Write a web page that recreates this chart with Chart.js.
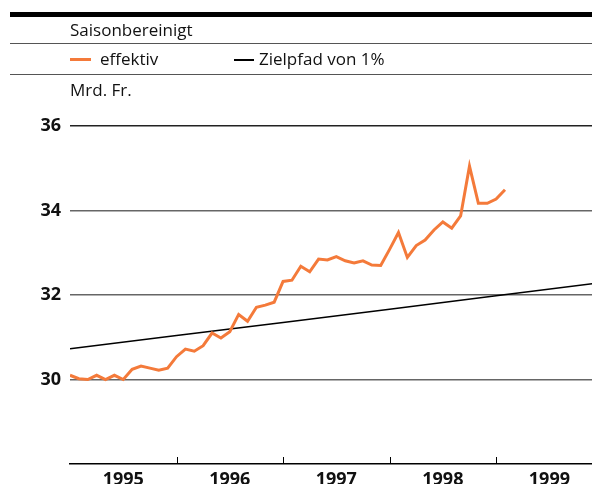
<!DOCTYPE html>
<html>
<head>
<meta charset="utf-8">
<script src="https://cdn.jsdelivr.net/npm/chart.js@4.4.1/dist/chart.umd.min.js"></script>
<style>
  body { margin: 0; background: #fff; overflow: hidden; font-family: 'Open Sans', sans-serif; color: #111; }
  #wrap { position: relative; width: 592px; height: 484px; overflow: hidden; }
  #chart { position: absolute; left: 0; top: 0; }
  .rule { position: absolute; left: 10px; right: 0; }
  .txt { position: absolute; font-size: 17px; line-height: 20px; white-space: nowrap; }
  .dash { position: absolute; }
</style>
</head>
<body>
<div id="wrap">
  <canvas id="chart" width="592" height="500"></canvas>
  <div class="rule" style="top:12px;height:5px;background:#000"></div>
  <div class="txt" style="left:70px;top:20px">Saisonbereinigt</div>
  <div class="rule" style="top:43px;height:1px;background:#555"></div>
  <div class="dash" style="left:70px;top:58px;width:21px;height:3px;background:#f47a3a"></div>
  <div class="txt" style="left:100px;top:49px">effektiv</div>
  <div class="dash" style="left:234px;top:59px;width:20px;height:1.5px;background:#000"></div>
  <div class="txt" style="left:259px;top:49px">Zielpfad von 1%</div>
  <div class="rule" style="top:74px;height:1px;background:#555"></div>
  <div class="txt" style="left:70px;top:80px">Mrd. Fr.</div>
</div>
<script>
// Monatswerte ab Januar 1995 (Index 0 = Jan 1995)
const effektiv = [30.10, 30.02, 30.00, 30.10, 30.00, 30.10, 30.00, 30.24, 30.32, 30.27, 30.22, 30.27,
                  30.54, 30.72, 30.67, 30.80, 31.10, 30.98, 31.13, 31.54, 31.38, 31.71, 31.76, 31.83,
                  32.32, 32.35, 32.68, 32.55, 32.85, 32.83, 32.91, 32.81, 32.76, 32.81, 32.71, 32.70,
                  33.08, 33.48, 32.89, 33.17, 33.30, 33.54, 33.73, 33.58, 33.87, 35.05, 34.17, 34.17,
                  34.27, 34.49];
// Zielpfad: Werte jeweils am Jahresanfang
const zielMonate = [0, 12, 24, 36, 48, 60];
const zielWerte = [30.73, 31.04, 31.35, 31.66, 31.98, 32.30];
const jahre = ['1995', '1996', '1997', '1998', '1999'];
const yTicks = [28, 30, 32, 34, 36];

const ORANGE = '#f47a3a';
const FONT = "'Open Sans', sans-serif";

// small year tick marks pointing up from the x axis
const yearTicks = {
  id: 'yearTicks',
  afterDatasetsDraw(chart) {
    const xs = chart.scales.x, area = chart.chartArea, ctx = chart.ctx;
    ctx.save();
    ctx.strokeStyle = '#000';
    ctx.lineWidth = 1;
    for (let i = 1; i < jahre.length; i++) {
      const px = Math.round(xs.getPixelForValue(i * 12)) + 0.5;
      ctx.beginPath();
      ctx.moveTo(px, area.bottom - 7);
      ctx.lineTo(px, area.bottom);
      ctx.stroke();
    }
    ctx.restore();
  }
};

new Chart(document.getElementById('chart'), {
  type: 'line',
  data: {
    datasets: [
      {
        label: 'effektiv',
        data: effektiv.map((v, i) => ({ x: i, y: v })),
        borderColor: ORANGE,
        borderWidth: 3,
        pointRadius: 0,
        tension: 0
      },
      {
        label: 'Zielpfad von 1%',
        data: zielMonate.map((m, i) => ({ x: m, y: zielWerte[i] })),
        borderColor: '#000',
        borderWidth: 1.5,
        pointRadius: 0,
        tension: 0
      }
    ]
  },
  options: {
    responsive: false,
    animation: false,
    layout: { padding: { top: 126, left: 0, right: 0, bottom: 0 } },
    plugins: { legend: { display: false }, tooltip: { enabled: false } },
    scales: {
      x: {
        type: 'linear',
        min: 0,
        max: 58.8,
        afterBuildTicks: s => { s.ticks = [0, 6, 12, 18, 24, 30, 36, 42, 48, 54].map(v => ({ value: v })); },
        afterFit: s => { s.height = 36; },
        grid: { display: false },
        border: { display: true, color: '#000', width: 1.5 },
        ticks: {
          autoSkip: false,
          maxRotation: 0,
          padding: -3,
          color: '#111',
          font: { family: FONT, size: 18, weight: 'bold' },
          callback: v => (v % 12 === 6 ? jahre[(v - 6) / 12] : '')
        }
      },
      y: {
        min: 28,
        max: 36,
        afterBuildTicks: s => { s.ticks = yTicks.map(v => ({ value: v })); },
        afterFit: s => { s.width = 70; },
        border: { display: false },
        grid: {
          drawTicks: false,
          lineWidth: 1.5,
          color: c => (c.tick.value === 28 ? 'rgba(0,0,0,0)' : (c.tick.value === 36 ? '#222' : '#666'))
        },
        ticks: {
          padding: 9,
          color: '#111',
          font: { family: FONT, size: 18, weight: 'bold' },
          callback: v => (v === 28 ? '' : v)
        }
      }
    }
  },
  plugins: [yearTicks]
});
</script>
</body>
</html>
